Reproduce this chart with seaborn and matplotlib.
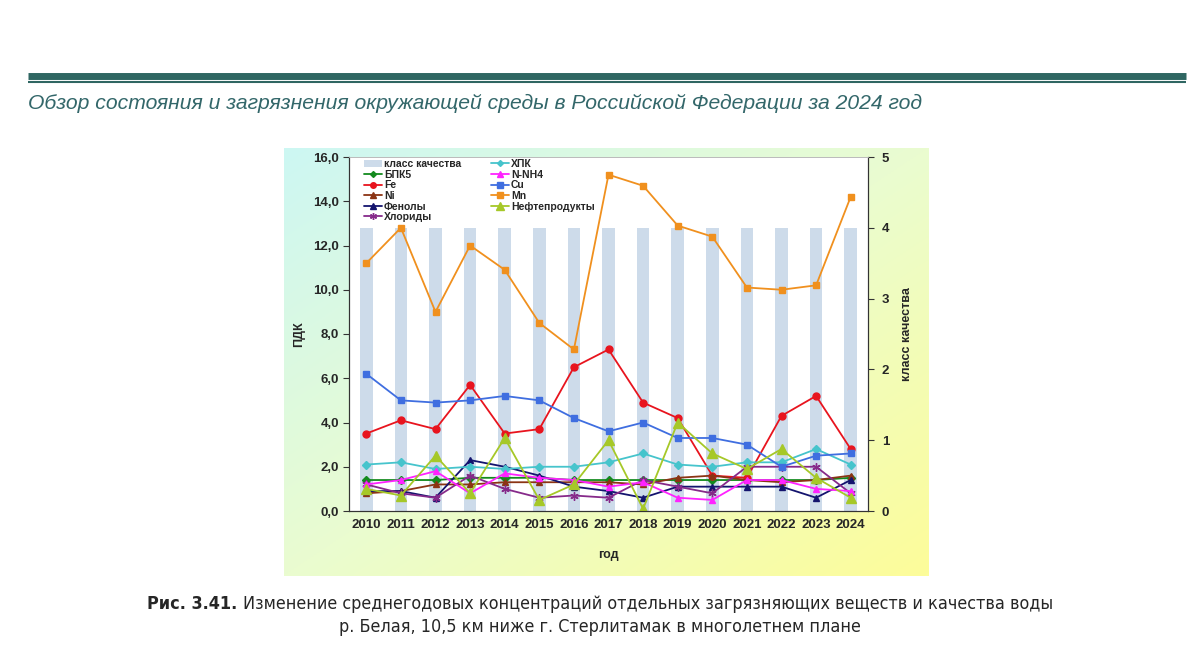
import numpy as np
import pandas as pd
import seaborn as sns
from matplotlib import pyplot as plt
from matplotlib.colors import LinearSegmentedColormap
from matplotlib.lines import Line2D
from matplotlib.patches import Patch
import matplotlib.ticker as mtick

# Data
years = list(range(2010, 2025))
quality_class = [4, 4, 4, 4, 4, 4, 4, 4, 4, 4, 4, 4, 4, 4, 4]

bpk5 = [1.4, 1.4, 1.4, 1.5, 1.5, 1.5, 1.4, 1.4, 1.4, 1.4, 1.4, 1.4, 1.4, 1.4, 1.5]
fe = [3.5, 4.1, 3.7, 5.7, 3.5, 3.7, 6.5, 7.3, 4.9, 4.2, 1.6, 1.5, 4.3, 5.2, 2.8]
ni = [0.8, 0.9, 1.2, 1.2, 1.3, 1.3, 1.3, 1.3, 1.2, 1.5, 1.6, 1.4, 1.3, 1.4, 1.6]
phenols = [0.9, 0.9, 0.6, 2.3, 2.0, 1.6, 1.1, 0.9, 0.6, 1.1, 1.1, 1.1, 1.1, 0.6, 1.4]
chlorides = [1.2, 0.8, 0.6, 1.6, 1.0, 0.6, 0.7, 0.6, 1.4, 1.1, 0.8, 2.0, 2.0, 2.0, 0.8]
hpk = [2.1, 2.2, 1.9, 2.0, 1.9, 2.0, 2.0, 2.2, 2.6, 2.1, 2.0, 2.2, 2.2, 2.8, 2.1]
n_nh4 = [1.2, 1.4, 1.8, 0.8, 1.7, 1.5, 1.4, 1.1, 1.3, 0.6, 0.5, 1.4, 1.4, 1.0, 0.9]
cu = [6.2, 5.0, 4.9, 5.0, 5.2, 5.0, 4.2, 3.6, 4.0, 3.3, 3.3, 3.0, 2.0, 2.5, 2.6]
mn = [11.2, 12.8, 9.0, 12.0, 10.9, 8.5, 7.3, 15.2, 14.7, 12.9, 12.4, 10.1, 10.0, 10.2, 14.2]
oil = [1.0, 0.7, 2.5, 0.8, 3.3, 0.5, 1.2, 3.2, 0.1, 4.0, 2.6, 1.9, 2.8, 1.5, 0.6]

# name, values, color, marker, marker size
series = [
    ('БПК5', bpk5, '#138a1e', 'D', 4),
    ('Fe', fe, '#e8141e', 'o', 5),
    ('Ni', ni, '#8b3414', '^', 5),
    ('Фенолы', phenols, '#14146e', '^', 5),
    ('Хлориды', chlorides, '#862a8a', (6, 2, 0), 6),
    ('ХПК', hpk, '#46c4cc', 'D', 4),
    ('N-NH4', n_nh4, '#ff22ff', '^', 5),
    ('Cu', cu, '#3f6ee0', 's', 5),
    ('Mn', mn, '#f0901e', 's', 5),
    ('Нефтепродукты', oil, '#a6c828', '^', 7),
]

sns.set_style('white')
plt.rcParams['font.family'] = ['Liberation Sans', 'DejaVu Sans']

fig = plt.figure(figsize=(12, 6.5), dpi=100)

# Page header
fig.add_artist(Line2D([28 / 1200, 1186 / 1200], [1 - 75.5 / 650] * 2, color='#2f6662', lw=5,
                      solid_capstyle='butt'))
fig.add_artist(Line2D([28 / 1200, 1186 / 1200], [1 - 82 / 650] * 2, color='#2f6662', lw=1.5,
                      solid_capstyle='butt'))
fig.text(28 / 1200, 1 - 103 / 650, 'Обзор состояния и загрязнения окружающей среды в Российской Федерации за 2024 год',
         fontsize=15.2, style='italic', color='#33676a', va='center', ha='left')

# Gradient panel behind the chart
bg = fig.add_axes([284 / 1200, 1 - 576 / 650, 645 / 1200, 428 / 650])
cmap = LinearSegmentedColormap.from_list('panel', ['#cdf7f3', '#eafcd0', '#fdfd9a'])
u, v = np.meshgrid(np.linspace(0, 1, 200), np.linspace(0, 1, 200))
bg.imshow((u + v) / 2, cmap=cmap, aspect='auto', extent=(0, 1, 1, 0), vmin=0, vmax=1)
bg.set_axis_off()

# Main axes
ax = fig.add_axes([349 / 1200, 1 - 511 / 650, 519 / 1200, 354 / 650])
ax2 = ax.twinx()
ax.set_zorder(3)
ax2.set_zorder(2)
ax.patch.set_visible(False)
ax2.patch.set_visible(True)
ax2.patch.set_facecolor('white')

bars = pd.DataFrame({'year': years, 'class': quality_class})
sns.barplot(data=bars, x='year', y='class', ax=ax2, color='#cddbea', width=0.36,
            saturation=1, edgecolor='none')

pos = np.arange(len(years))
for name, values, color, marker, ms in series:
    sns.lineplot(x=pos, y=values, ax=ax, color=color, marker=marker, markersize=ms,
                 markeredgecolor=color, markeredgewidth=1, linewidth=1.3, label=name, legend=False)

ax.set_xlim(-0.5, len(years) - 0.5)
ax.set_ylim(0, 16)
ax2.set_ylim(0, 5)
ax.set_yticks(np.arange(0, 16.1, 2))
ax.yaxis.set_major_formatter(mtick.FuncFormatter(lambda v, p: f'{v:.1f}'.replace('.', ',')))
ax2.set_yticks(range(0, 6))

ax.set_xticks(pos)
ax.set_xticklabels([str(y) for y in years])
ax.set_xticks(np.arange(-0.5, len(years)), minor=True)
ax.tick_params(axis='x', which='major', length=0, pad=6)
ax.tick_params(axis='x', which='minor', length=4, width=0.8, direction='out', color='#333333')
ax.tick_params(axis='y', length=4, width=0.8, direction='out', color='#333333', pad=3)
ax2.tick_params(axis='y', length=4, width=0.8, direction='out', color='#333333', pad=6)
for a in (ax, ax2):
    for lab in a.get_xticklabels() + a.get_yticklabels():
        lab.set_fontweight('bold')
        lab.set_fontsize(9.5)

for a in (ax, ax2):
    for s in ('left', 'right', 'bottom'):
        a.spines[s].set_color('#333333')
        a.spines[s].set_linewidth(0.8)
    a.spines['top'].set_color('#bbbbbb')
    a.spines['top'].set_linewidth(0.6)

ax.set_xlabel('год', fontsize=9, fontweight='bold', labelpad=13)
ax.set_ylabel('ПДК', fontsize=9, fontweight='bold', labelpad=6)
ax2.set_ylabel('класс качества', fontsize=9, fontweight='bold', labelpad=8)

handles = [Patch(facecolor='#cddbea', edgecolor='none', label='класс качества')]
for name, values, color, marker, ms in series:
    handles.append(Line2D([0], [0], color=color, marker=marker, markersize=ms - 1,
                          markeredgecolor=color, lw=1.3, label=name))
leg = ax.legend(handles=handles, ncol=2, loc='upper left', bbox_to_anchor=(0.017, 1.012),
                frameon=False, prop={'size': 7.5, 'weight': 'bold'}, handlelength=1.7,
                handletextpad=0.2, labelspacing=0.06, columnspacing=2.9, borderpad=0.1)

# Caption: bold figure number followed by regular text
cap_kw = dict(fontsize=12.9, family='DejaVu Sans', fontstretch='condensed', va='center')
fig.canvas.draw()
renderer = fig.canvas.get_renderer()
y1 = 1 - 604 / 650
t_bold = fig.text(0, y1, 'Рис. 3.41. ', fontweight='bold', **cap_kw)
t_rest = fig.text(0, y1, 'Изменение среднегодовых концентраций отдельных загрязняющих веществ и качества воды',
                  **cap_kw)
w1 = t_bold.get_window_extent(renderer).width
w2 = t_rest.get_window_extent(renderer).width
x0 = (1200 - (w1 + w2)) / 2
t_bold.set_x(x0 / 1200)
t_rest.set_x((x0 + w1) / 1200)
fig.text(0.5, 1 - 627 / 650, 'р. Белая, 10,5 км ниже г. Стерлитамак в многолетнем плане',
         ha='center', **cap_kw)

plt.savefig('out.png', dpi=100)
